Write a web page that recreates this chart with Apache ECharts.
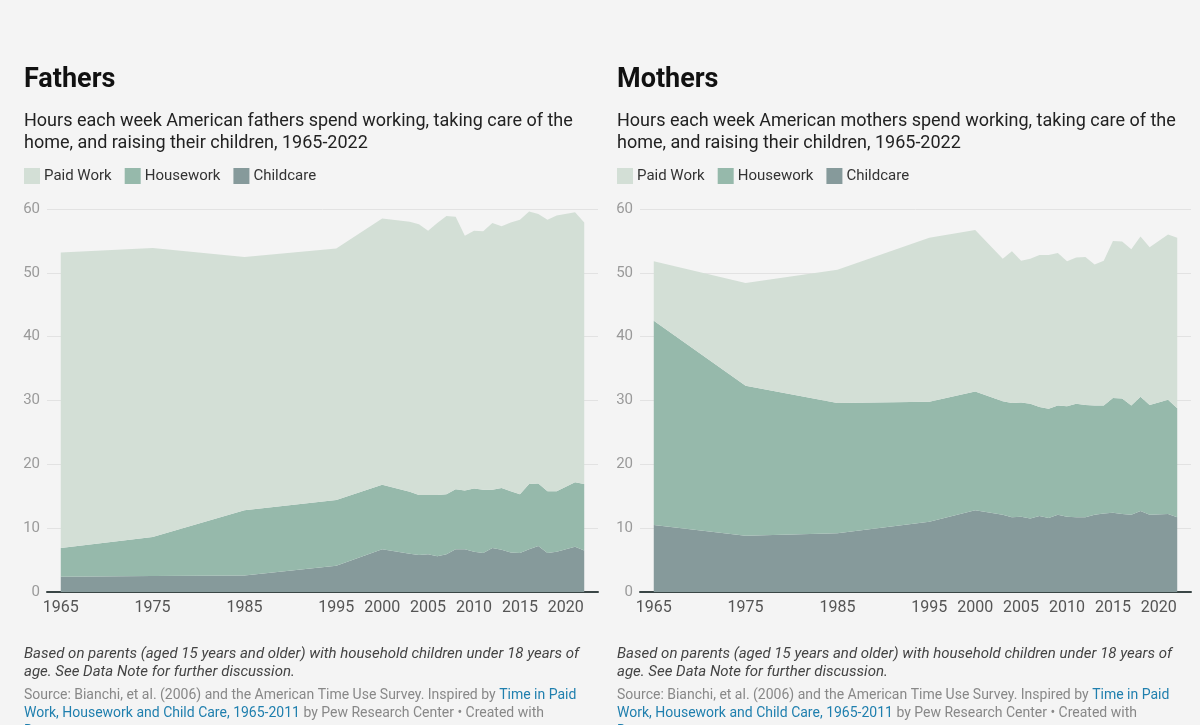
<!DOCTYPE html>
<html>
<head>
<meta charset="utf-8">
<script src="https://cdn.jsdelivr.net/npm/echarts@6/dist/echarts.min.js"></script>
<style>
  html, body { margin: 0; padding: 0; background: #f4f4f4; }
  #chart { width: 1200px; height: 725px; }
</style>
</head>
<body>
<div id="chart"></div>
<script>
// survey years (no 2020 point)
const years = [1965, 1975, 1985, 1995, 2000, 2003, 2004, 2005, 2006, 2007, 2008, 2009,
  2010, 2011, 2012, 2013, 2014, 2015, 2016, 2017, 2018, 2019, 2021, 2022];
const yearLabels = [1965, 1975, 1985, 1995, 2000, 2005, 2010, 2015, 2020];

// hours per week, fathers
const fathersChild = [2.4, 2.5, 2.6, 4.1, 6.7, 6.0, 5.8, 5.9, 5.6, 5.9, 6.7, 6.7,
  6.3, 6.1, 6.9, 6.6, 6.2, 6.1, 6.7, 7.2, 6.1, 6.3, 7.1, 6.5];
const fathersHouse = [4.5, 6.1, 10.2, 10.3, 10.1, 9.7, 9.4, 9.3, 9.6, 9.4, 9.4, 9.2,
  9.9, 9.9, 9.1, 9.7, 9.6, 9.2, 10.2, 9.8, 9.7, 9.5, 10.1, 10.4];
const fathersPaid = [46.3, 45.3, 39.7, 39.4, 41.7, 42.3, 42.4, 41.4, 42.6, 43.6, 42.7, 39.9,
  40.4, 40.5, 41.8, 41.0, 42.1, 43.0, 42.7, 42.2, 42.5, 43.2, 42.3, 41.0];

// hours per week, mothers
const mothersChild = [10.5, 8.8, 9.2, 11.0, 12.8, 12.1, 11.7, 11.8, 11.5, 11.9, 11.6, 12.1,
  11.8, 11.7, 11.7, 12.1, 12.3, 12.4, 12.2, 12.1, 12.7, 12.1, 12.2, 11.7];
const mothersHouse = [32.0, 23.5, 20.4, 18.8, 18.6, 17.8, 17.9, 17.9, 18.0, 17.1, 17.1, 17.1,
  17.3, 17.8, 17.6, 17.1, 16.9, 18.0, 18.1, 17.1, 17.9, 17.2, 17.9, 17.1];
const mothersPaid = [9.3, 16.1, 20.9, 25.7, 25.3, 22.3, 23.8, 22.2, 22.7, 23.8, 24.1, 23.9,
  22.7, 22.9, 23.2, 22.1, 22.7, 24.6, 24.6, 24.5, 25.1, 24.7, 25.9, 26.7];

const names = ['Paid Work', 'Housework', 'Childcare'];
const colors = { 'Paid Work': '#d3dfd6', 'Housework': '#96b9ab', 'Childcare': '#869a9b' };

const FONT = 'Roboto, "Noto Sans", sans-serif';

// hours first, year second: echarts stacks the first numeric column
function pairs(arr) {
  return years.map((y, i) => [arr[i], y]);
}

function areaSeries(name, arr, idx) {
  return {
    name: name,
    type: 'line',
    stack: 'total' + idx,
    xAxisIndex: idx,
    yAxisIndex: idx,
    encode: { x: 1, y: 0 },
    symbol: 'none',
    silent: true,
    lineStyle: { width: 0 },
    itemStyle: { color: colors[name] },
    areaStyle: { color: colors[name], opacity: 1 },
    data: pairs(arr)
  };
}

function xAxis(idx) {
  return {
    gridIndex: idx,
    type: 'value',
    min: 1963.5,
    max: 2023.5,
    splitLine: { show: false },
    axisTick: { show: false },
    axisLine: { onZero: false, lineStyle: { color: '#3a4646', width: 2 } },
    axisLabel: {
      customValues: yearLabels,
      formatter: function (v) { return String(v); },
      color: '#555',
      fontSize: 16,
      fontFamily: FONT,
      margin: 8
    }
  };
}

function yAxis(idx) {
  return {
    gridIndex: idx,
    type: 'value',
    min: 0,
    max: 60,
    interval: 10,
    axisLine: { show: false },
    axisTick: { show: false },
    splitLine: { lineStyle: { color: '#e2e2e2', width: 1 } },
    axisLabel: { color: '#9a9a9a', fontSize: 15, fontFamily: FONT, margin: 7 }
  };
}

function legend(left) {
  return {
    left: left,
    top: 163,
    icon: 'rect',
    itemWidth: 16,
    itemHeight: 16,
    itemGap: 13,
    selectedMode: false,
    data: names,
    textStyle: { color: '#333', fontSize: 15, fontFamily: FONT, padding: [0, 0, 0, -1] }
  };
}

const linkColor = '#1f7fae';

function panelText(x, who) {
  return [
    { type: 'text', left: x, top: 67, style: { text: who === 'fathers' ? 'Fathers' : 'Mothers',
      font: 'bold 27px ' + FONT, fill: '#111' } },
    { type: 'text', left: x, top: 110, style: {
      text: 'Hours each week American ' + who + ' spend working, taking care of the\nhome, and raising their children, 1965-2022',
      font: '18px ' + FONT, fill: '#222', lineHeight: 22 } },
    { type: 'text', left: x, top: 645, style: {
      text: 'Based on parents (aged 15 years and older) with household children under 18 years of\nage. See Data Note for further discussion.',
      font: 'italic 15px ' + FONT, fill: '#444', lineHeight: 18 } },
    { type: 'text', left: x, top: 686, style: {
      text: '{g|Source: Bianchi, et al. (2006) and the American Time Use Survey. Inspired by }{l|Time in Paid}\n' +
            '{l|Work, Housework and Child Care, 1965-2011}{g| by Pew Research Center \u2022 Created with}\n' +
            '{l|Datawrapper}',
      font: '14px ' + FONT, lineHeight: 18,
      rich: {
        g: { fill: '#888', font: '14px ' + FONT, lineHeight: 18 },
        l: { fill: linkColor, font: '14px ' + FONT, lineHeight: 18 }
      } } }
  ];
}

var chartDom = document.getElementById('chart');
var myChart = echarts.init(chartDom);
var option;

option = {
  backgroundColor: '#f4f4f4',
  animation: false,
  legend: [legend(19), legend(612)],
  grid: [
    { left: 47, top: 209, width: 551, bottom: 133 },
    { left: 640, top: 209, width: 551, bottom: 133 }
  ],
  xAxis: [xAxis(0), xAxis(1)],
  yAxis: [yAxis(0), yAxis(1)],
  graphic: panelText(24, 'fathers').concat(panelText(617, 'mothers')),
  series: [
    areaSeries('Childcare', fathersChild, 0),
    areaSeries('Housework', fathersHouse, 0),
    areaSeries('Paid Work', fathersPaid, 0),
    areaSeries('Childcare', mothersChild, 1),
    areaSeries('Housework', mothersHouse, 1),
    areaSeries('Paid Work', mothersPaid, 1)
  ]
};

option && myChart.setOption(option);
</script>
</body>
</html>
